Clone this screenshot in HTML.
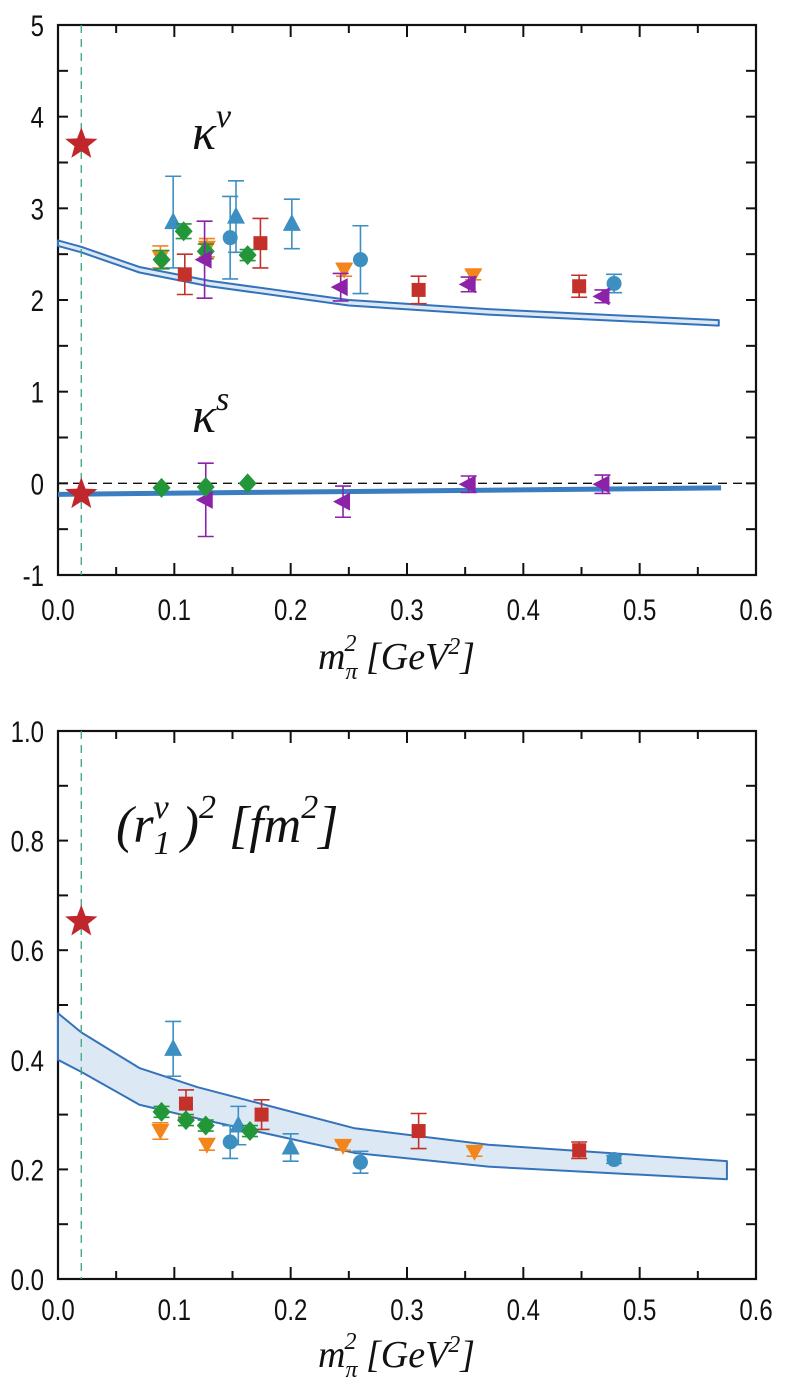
<!DOCTYPE html>
<html><head><meta charset="utf-8"><style>
body{margin:0;background:#fff}
svg{display:block}
.tk{font-family:"Liberation Sans",sans-serif;font-size:30px;fill:#111}
.it{font-family:"Liberation Serif",serif;font-style:italic;fill:#111}
</style></head><body>
<svg id="chart" width="786" height="1389" viewBox="0 0 786 1389" xmlns="http://www.w3.org/2000/svg"></svg>
<script>
// ---- shared x data ----
const xTicks=[0,0.1,0.2,0.3,0.4,0.5,0.6];
const xTickLabels=["0.0","0.1","0.2","0.3","0.4","0.5","0.6"];
const physX=0.02;
// ---- top panel (kappa) ----
const kTicks=[-1,0,1,2,3,4,5];
const kTickLabels=["-1","0","1","2","3","4","5"];
const kvBandX=[0,0.02,0.07,0.13,0.25,0.37,0.568];
const kvBandHi=[2.65,2.58,2.36,2.21,2.0,1.9,1.78];
const kvBandLo=[2.59,2.52,2.30,2.15,1.94,1.84,1.72];
const ksLineX=[0,0.57];
const ksLineY=[-0.12,-0.05];
const kvStar=3.7, ksStar=-0.12;
const kvTriUpX=[0.099,0.153,0.201], kvTriUpY=[2.85,2.91,2.83], kvTriUpE=[0.5,0.39,0.27];
const kvCircX=[0.148,0.26,0.478], kvCircY=[2.68,2.44,2.18], kvCircE=[0.45,0.37,0.1];
const kvSqX=[0.109,0.174,0.31,0.448], kvSqY=[2.28,2.62,2.11,2.15], kvSqE=[0.22,0.27,0.15,0.12];
const kvDiaX=[0.089,0.108,0.127,0.163], kvDiaY=[2.44,2.75,2.53,2.49], kvDiaE=[0.1,0.08,0.08,0.06];
const kvDownX=[0.088,0.128,0.246,0.357], kvDownY=[2.47,2.57,2.33,2.27], kvDownE=[0.12,0.1,0.07,0.05];
const kvLeftX=[0.126,0.243,0.353,0.468], kvLeftY=[2.44,2.14,2.17,2.04], kvLeftE=[0.42,0.15,0.08,0.07];
const ksDiaX=[0.089,0.127,0.163], ksDiaY=[-0.05,-0.04,0.0];
const ksLeftX=[0.127,0.245,0.353,0.468], ksLeftY=[-0.18,-0.2,-0.01,-0.01], ksLeftE=[0.4,0.17,0.09,0.1];
// ---- bottom panel (radius) ----
const rTicks=[0,0.2,0.4,0.6,0.8,1.0];
const rTickLabels=["0.0","0.2","0.4","0.6","0.8","1.0"];
const rBandX=[0,0.02,0.07,0.12,0.255,0.37,0.575];
const rBandHi=[0.485,0.45,0.385,0.35,0.275,0.245,0.215];
const rBandLo=[0.40,0.378,0.318,0.293,0.23,0.205,0.182];
const rStar=0.652;
const rTriUpX=[0.099,0.155,0.2], rTriUpY=[0.42,0.28,0.24], rTriUpE=[0.05,0.035,0.025];
const rCircX=[0.148,0.26,0.478], rCircY=[0.25,0.213,0.218], rCircE=[0.03,0.02,0.007];
const rSqX=[0.11,0.175,0.31,0.448], rSqY=[0.32,0.30,0.27,0.235], rSqE=[0.025,0.027,0.032,0.015];
const rDiaX=[0.089,0.11,0.127,0.165], rDiaY=[0.305,0.29,0.28,0.27], rDiaE=[0.01,0.01,0.01,0.01];
const rDownX=[0.088,0.128,0.245,0.358], rDownY=[0.27,0.245,0.243,0.232], rDownE=[0.015,0.01,0.008,0.008];

const NS="http://www.w3.org/2000/svg";
const svg=document.getElementById('chart');
function el(tag,attrs,parent){const e=document.createElementNS(NS,tag);for(const k in attrs)e.setAttribute(k,attrs[k]);(parent||svg).appendChild(e);return e;}
const X0=58,X1=756;
const sx=v=>X0+(X1-X0)*v/0.6;
function mkY(top,bot,vmin,vmax){return v=>bot-(bot-top)*(v-vmin)/(vmax-vmin);}
const C={blue:"#3d8fc2",red:"#c4302a",green:"#23963a",orange:"#f2861c",purple:"#8b22a8",band:"#3473bb",fill:"#dde8f5",star:"#c0272d"};

function star(cx,cy,r,name){
  let p=[];for(let i=0;i<10;i++){const a=-Math.PI/2+i*Math.PI/5;const rr=i%2?r*0.42:r;p.push((cx+rr*Math.cos(a)).toFixed(1)+","+(cy+rr*Math.sin(a)).toFixed(1));}
  const s=el('polygon',{points:p.join(' '),fill:C.star});
  
  
}
function errbar(g,x,y1,y2,col){
  el('line',{x1:x,x2:x,y1:y1,y2:y2,stroke:col,'stroke-width':1.6},g);
  el('line',{x1:x-8,x2:x+8,y1:y1,y2:y1,stroke:col,'stroke-width':1.6},g);
  el('line',{x1:x-8,x2:x+8,y1:y2,y2:y2,stroke:col,'stroke-width':1.6},g);
}
function marker(g,shape,x,y,col){
  const s=9;
  if(shape==='up')el('polygon',{points:`${x},${y-s-1} ${x-s},${y+s-2} ${x+s},${y+s-2}`,fill:col},g);
  else if(shape==='down')el('polygon',{points:`${x},${y+s} ${x-s},${y-s+2} ${x+s},${y-s+2}`,fill:col},g);
  else if(shape==='left')el('polygon',{points:`${x-s-1},${y} ${x+s-2},${y-s} ${x+s-2},${y+s}`,fill:col},g);
  else if(shape==='circ')el('circle',{cx:x,cy:y,r:7.5,fill:col},g);
  else if(shape==='sq')el('rect',{x:x-7,y:y-7,width:14,height:14,fill:col},g);
  else if(shape==='dia')el('polygon',{points:`${x},${y-10} ${x+9},${y} ${x},${y+10} ${x-9},${y}`,fill:col},g);
}
function series(name,shape,col,xs,ys,es,sy){
  const g=el('g',{});
  
  
  xs.forEach((xv,i)=>{
    const px=sx(xv),py=sy(ys[i]);
    if(es&&es[i]>0)errbar(g,px,sy(ys[i]+es[i]),sy(ys[i]-es[i]),col);
    marker(g,shape,px,py,col);
  });
}
function band(name,xs,hi,lo,sy,fill,sw){
  const up=xs.map((v,i)=>sx(v)+","+sy(hi[i]));
  const dn=xs.map((v,i)=>sx(v)+","+sy(lo[i])).reverse();
  const p=el('polygon',{points:up.concat(dn).join(' '),fill:fill,stroke:C.band,'stroke-width':sw,'stroke-linejoin':'round'});
  
  
}
function frame(prefix,top,bot,yt,ytl,sy,minorStep,ymin,ymax,labelY,titleY){
  const f=el('rect',{x:X0,y:top,width:X1-X0,height:bot-top,fill:'none',stroke:'#111','stroke-width':2.2});
  
  
  for(let v=0;v<=0.6001;v+=0.05){
    const major=Math.abs(v*10-Math.round(v*10))<1e-6;const L=major?12:8;const px=sx(v);
    el('line',{x1:px,x2:px,y1:bot,y2:bot-L,stroke:'#111','stroke-width':2});
    el('line',{x1:px,x2:px,y1:top,y2:top+L,stroke:'#111','stroke-width':2});
  }
  for(let v=ymin;v<=ymax+1e-6;v+=minorStep){
    const py=sy(v);
    el('line',{x1:X0,x2:X0+10,y1:py,y2:py,stroke:'#111','stroke-width':2});
    el('line',{x1:X1,x2:X1-10,y1:py,y2:py,stroke:'#111','stroke-width':2});
  }
  xTicks.forEach((v,i)=>{
    const t=el('text',{x:sx(v),y:labelY,'text-anchor':'middle',class:'tk',transform:`translate(${sx(v)},0) scale(0.8,1) translate(${-sx(v)},0)`});
    t.textContent=xTickLabels[i];
    
    
  });
  yt.forEach((v,i)=>{
    const t=el('text',{x:44,y:sy(v)+11,'text-anchor':'end',class:'tk',transform:`translate(44,0) scale(0.8,1) translate(-44,0)`});
    t.textContent=ytl[i];
    
    
  });
  const tt=el('text',{x:318,y:titleY,class:'it','font-size':38});
  
  
  tt.innerHTML='m<tspan dy="10" font-size="24">π</tspan><tspan dy="-28" dx="-13" font-size="24">2</tspan><tspan dy="18"> [GeV</tspan><tspan dy="-15" font-size="24">2</tspan><tspan dy="15">]</tspan>';
}

// ---------- TOP PANEL ----------
const TT=25,TB=575;
const sk=mkY(TT,TB,-1,5);
frame('kappa',TT,TB,kTicks,kTickLabels,sk,0.5,-1,5,620,669);
const dz=el('line',{x1:X0,x2:X1,y1:sk(0),y2:sk(0),stroke:'#111','stroke-width':1.4,'stroke-dasharray':'9,6'});


band('kappa-v-band',kvBandX,kvBandHi,kvBandLo,sk,C.fill,2);
const ksl=el('polyline',{points:ksLineX.map((v,i)=>sx(v)+","+sk(ksLineY[i])).join(' '),fill:'none',stroke:'#3a7dc0','stroke-width':5});


const vl1=el('line',{x1:sx(physX),x2:sx(physX),y1:TT,y2:TB,stroke:'#3aa87a','stroke-width':1.3,'stroke-dasharray':'8,6'});


series('kv-orange-down','down',C.orange,kvDownX,kvDownY,kvDownE,sk);
series('kv-blue-triangles','up',C.blue,kvTriUpX,kvTriUpY,kvTriUpE,sk);
series('kv-blue-circles','circ',C.blue,kvCircX,kvCircY,kvCircE,sk);
series('kv-red-squares','sq',C.red,kvSqX,kvSqY,kvSqE,sk);
series('kv-green-diamonds','dia',C.green,kvDiaX,kvDiaY,kvDiaE,sk);
series('kv-purple-left','left',C.purple,kvLeftX,kvLeftY,kvLeftE,sk);
series('ks-purple-left','left',C.purple,ksLeftX,ksLeftY,ksLeftE,sk);
series('ks-green-diamonds','dia',C.green,ksDiaX,ksDiaY,null,sk);
star(sx(physX),sk(kvStar),17,'kappa-v-experiment-star');
star(sx(physX),sk(ksStar),17,'kappa-s-experiment-star');
const kv=el('text',{x:192,y:149,class:'it','font-size':50});
kv.innerHTML='κ<tspan dy="-22" font-size="34">v</tspan>';


const ks=el('text',{x:192,y:432,class:'it','font-size':50});
ks.innerHTML='κ<tspan dy="-22" font-size="34">s</tspan>';



// ---------- BOTTOM PANEL ----------
const BT=731,BB=1279;
const sr=mkY(BT,BB,0,1);
frame('radius',BT,BB,rTicks,rTickLabels,sr,0.1,0,1,1320,1367);
band('radius-band',rBandX,rBandHi,rBandLo,sr,C.fill,2);
const vl2=el('line',{x1:sx(physX),x2:sx(physX),y1:BT,y2:BB,stroke:'#3aa87a','stroke-width':1.3,'stroke-dasharray':'8,6'});


series('r-orange-down','down',C.orange,rDownX,rDownY,rDownE,sr);
series('r-blue-triangles','up',C.blue,rTriUpX,rTriUpY,rTriUpE,sr);
series('r-blue-circles','circ',C.blue,rCircX,rCircY,rCircE,sr);
series('r-red-squares','sq',C.red,rSqX,rSqY,rSqE,sr);
series('r-green-diamonds','dia',C.green,rDiaX,rDiaY,rDiaE,sr);
star(sx(physX),sr(rStar),17,'radius-experiment-star');
const rl=el('text',{x:116,y:842,class:'it','font-size':52});
rl.innerHTML='(r<tspan dy="12" font-size="34">1</tspan><tspan dy="-36" dx="-17" font-size="34">v</tspan><tspan dy="24"> )</tspan><tspan dy="-24" font-size="34">2</tspan><tspan dy="24">  [fm</tspan><tspan dy="-24" font-size="34">2</tspan><tspan dy="24">]</tspan>';


</script>
</body></html>
